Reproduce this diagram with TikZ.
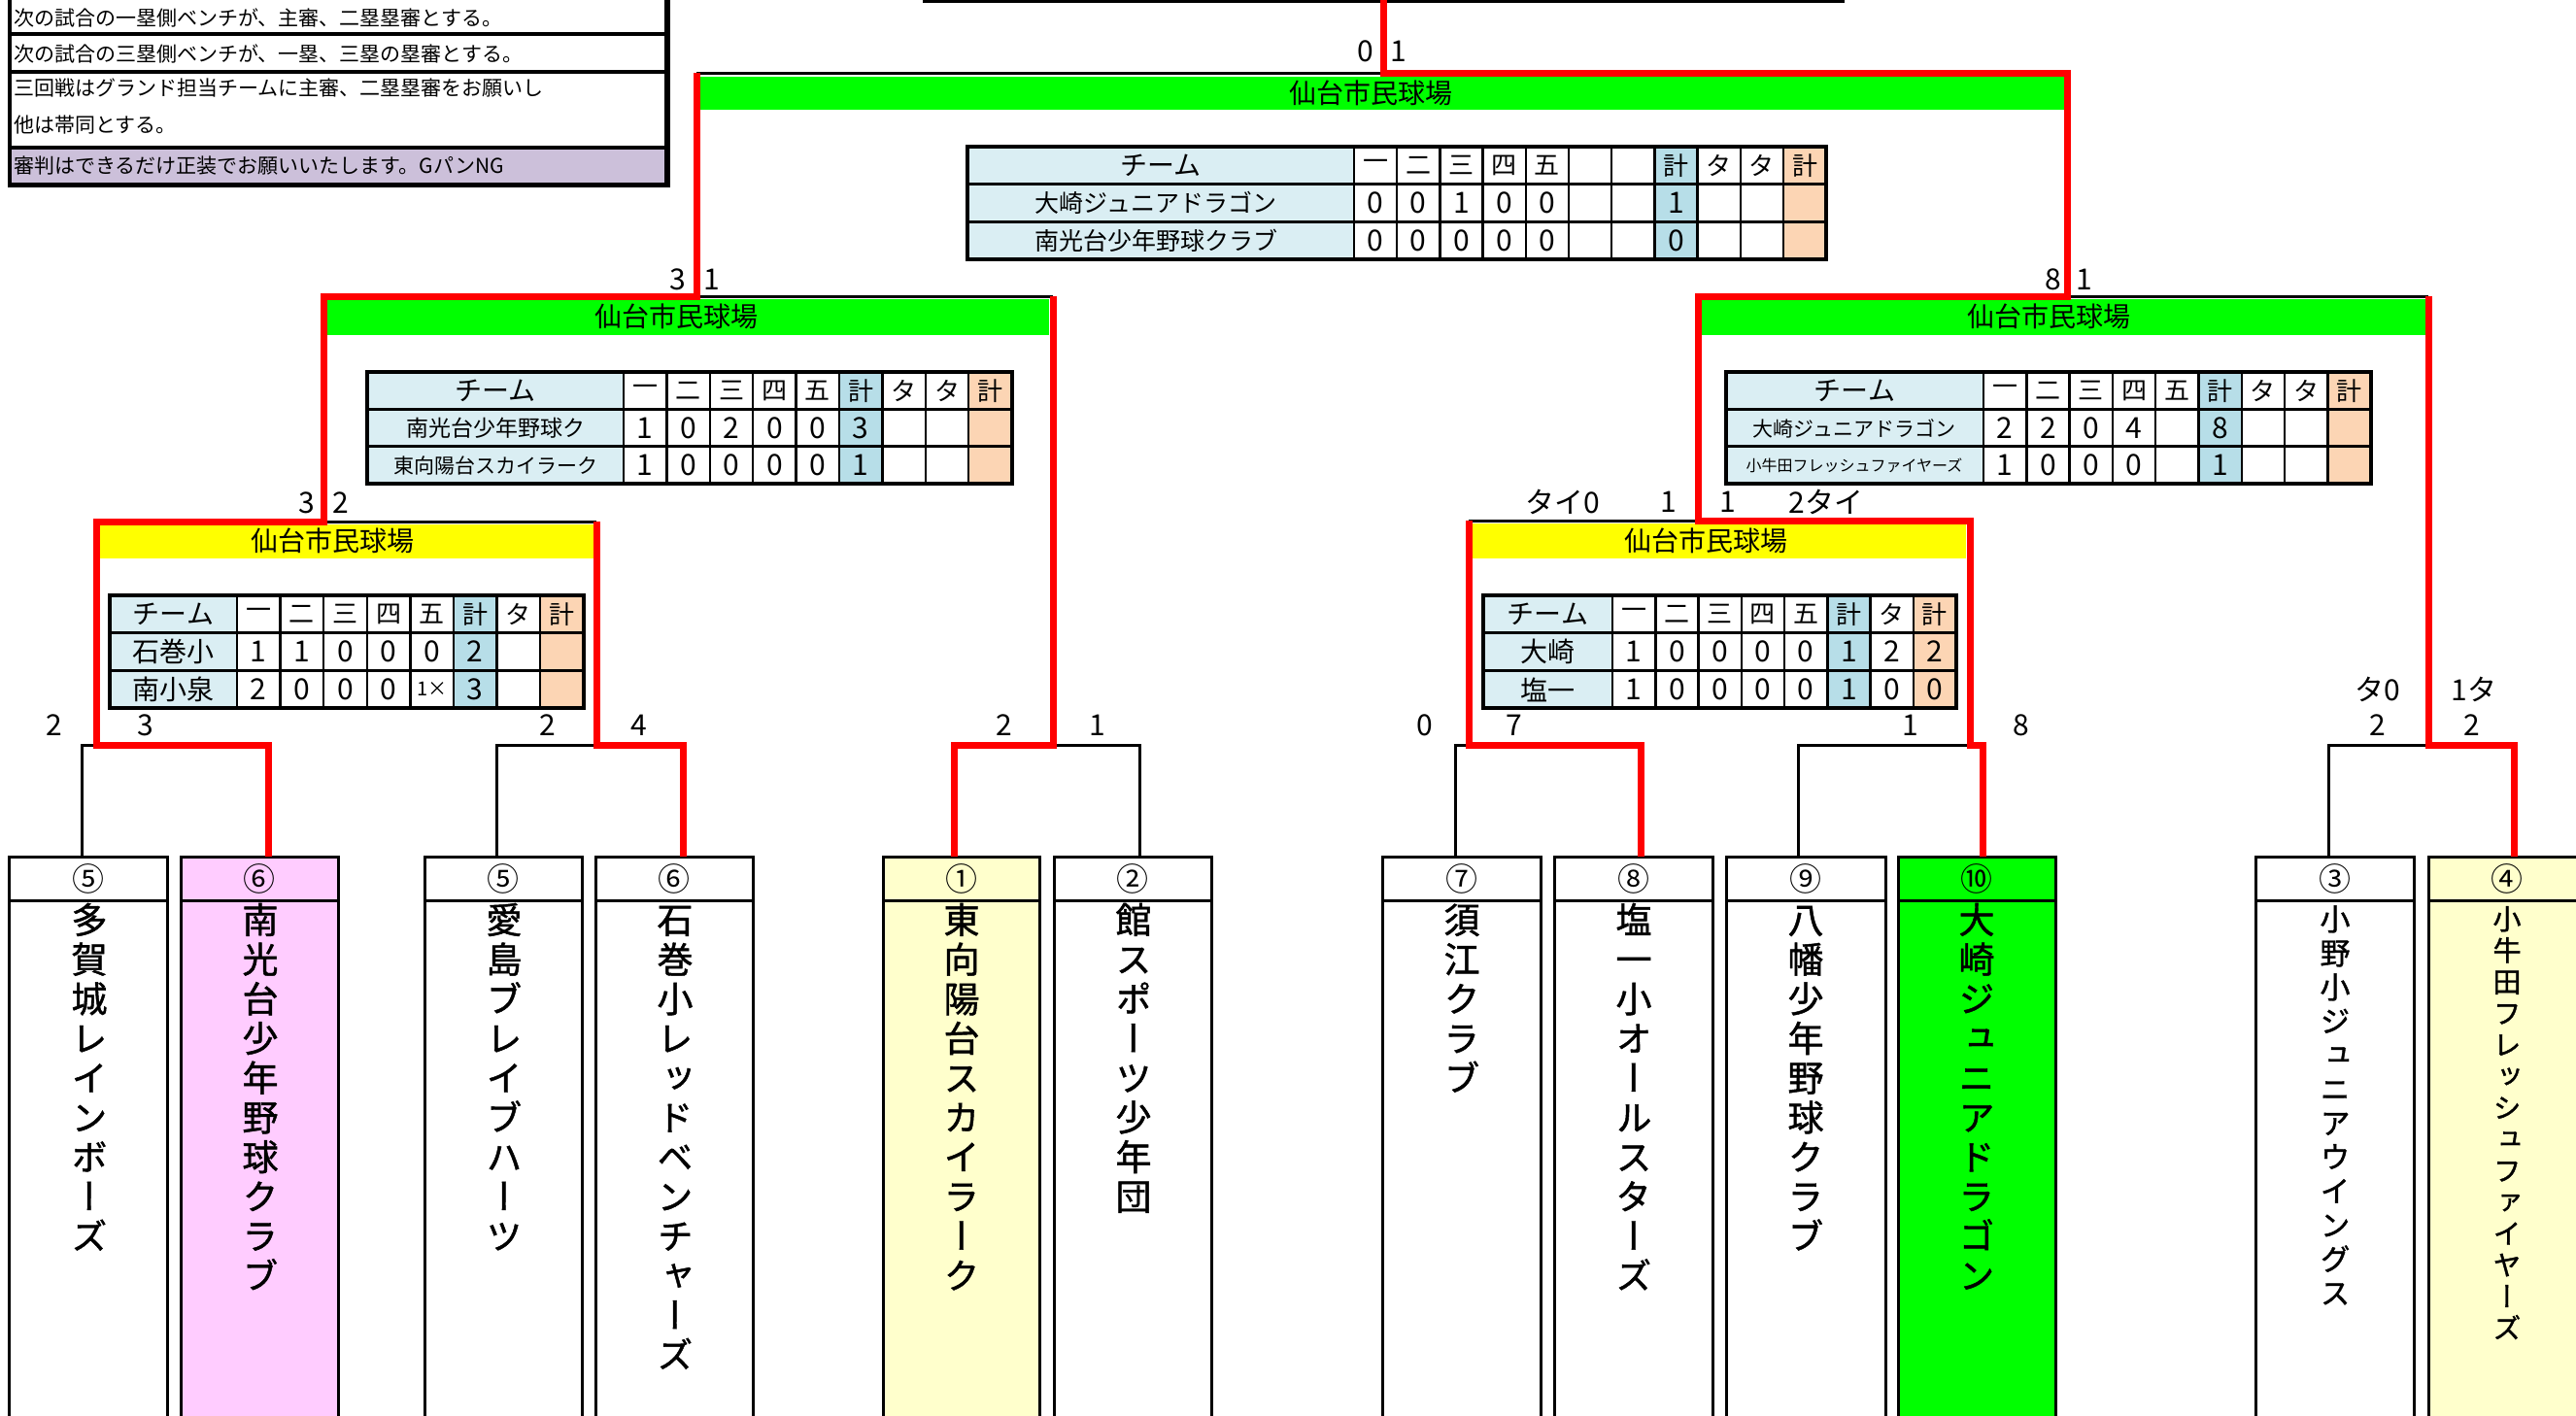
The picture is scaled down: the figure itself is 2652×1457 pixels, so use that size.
\documentclass[tikz,border=0pt]{standalone}
\usepackage{fontspec}
\setmainfont{Noto Sans CJK JP}
\newfontfamily\vfont[RawFeature=+vert, FakeBold=1.2]{Noto Sans CJK JP}
\newcommand\fsz[1]{\fontsize{#1}{#1}\selectfont}
\definecolor{cw}{HTML}{FFFFFF}
\definecolor{cb}{HTML}{B7DEE8}
\definecolor{co}{HTML}{FCD5B4}
\definecolor{tcol}{HTML}{DAEEF3}
\definecolor{pinkc}{HTML}{FFCCFF}
\definecolor{lyel}{HTML}{FFFFCC}
\definecolor{lav}{HTML}{CCC0DA}
\definecolor{gband}{HTML}{00FF00}
\definecolor{yband}{HTML}{FFFF00}
\tikzset{
 win/.style={draw=red, line width=7pt, line join=miter},
 lose/.style={draw=black, line width=3pt},
 gridl/.style={draw=black, line width=2.5pt},
 outerl/.style={draw=black, line width=4pt},
 hd/.style={font=\fsz{26}, inner sep=0pt},
 num/.style={font=\fsz{30}, inner sep=0pt},
 tname/.style={font=\fsz{#1}, inner sep=0pt},
 lbl/.style={font=\fsz{30}, inner sep=0pt},
 band/.style={font=\fsz{28}, inner sep=0pt},
 tboxl/.style={draw=black, line width=3pt},
 cnum/.style={font=\fsz{33}, inner sep=0pt},
 note/.style={font=\fsz{21}, inner sep=0pt, anchor=west},
}
% score table: #1 id, #2 x0, #3 y0, #4 team width, #5 col width, #6 row height, #7 ncols, #8 spec
\newcommand\stable[8]{%
  \fill[tcol] (#2,#3) rectangle ++(#4,{3*#6});
  \foreach \ct/\chd/\va/\vb [count=\i] in {#8} {%
    \pgfmathsetmacro\xl{#2+#4+(\i-1)*#5}%
    \fill[fill=c\ct] (\xl,#3) rectangle ++(#5,{3*#6});
    \node[hd] (#1h\i) at ({\xl+#5/2},{#3+#6/2}) {\chd};
    \node[num] (#1a\i) at ({\xl+#5/2},{#3+1.5*#6}) {\va};
    \node[num] (#1b\i) at ({\xl+#5/2},{#3+2.5*#6}) {\vb};
    \draw[gridl] (\xl,#3) -- ++(0,{3*#6});
  }
  \draw[gridl] (#2,{#3+#6}) -- ++({#4+#7*#5},0);
  \draw[gridl] (#2,{#3+2*#6}) -- ++({#4+#7*#5},0);
  \draw[outerl] (#2,#3) rectangle ++({#4+#7*#5},{3*#6});
  \node[hd, font=\fsz{28}] (#1h0) at ({#2+#4/2},{#3+#6/2}) {チーム};
}
% team box
\newcommand\teambox[5]{%
  \draw[tboxl, fill=#4] (#2,882) rectangle (#3,1475);
  \draw[tboxl] (#2,927) -- (#3,927);
  \node[cnum] (#1) at ({(#2+#3)/2},905) {#5};
}
% vertical name
\newcommand\vname[6]{%
  \foreach \vc [count=\k from 0] in {#6} {%
    \node[font=\vfont\fsz{#5}, inner sep=0pt, anchor=base] (#1c\k) at (#2,{#3+\k*#4}) {\vc};
  }%
}
\begin{document}
\begin{tikzpicture}[x=1pt,y=-1pt]
\useasboundingbox (0,0) rectangle (2652,1457);
\clip (0,0) rectangle (2652,1457);
\fill[white] (0,0) rectangle (2652,1457);

% ---- notes box
\fill[lav] (10,153) rectangle (685,189);
\draw[line width=4pt] (10,-5) -- (10,191);
\draw[line width=6pt] (687,-5) -- (687,192);
\foreach \yy/\ww in {35/4,74/4,152/4,190/5} \draw[line width=\ww pt] (8,\yy) -- (690,\yy);
\node[note] (n1) at (14,18) {次の試合の一塁側ベンチが、主審、二塁塁審とする。};
\node[note] (n2) at (14,55) {次の試合の三塁側ベンチが、一塁、三塁の塁審とする。};
\node[note] (n3) at (14,91) {三回戦はグランド担当チームに主審、二塁塁審をお願いし};
\node[note] (n4) at (14,129) {他は帯同とする。};
\node[note] (n5) at (14,171) {審判はできるだけ正装でお願いいたします。GパンNG};

% ---- bands
\fill[gband] (721,79) rectangle (2125,113);
\node[band] (bF) at (1411,96) {仙台市民球場};
\fill[gband] (337,308) rectangle (1080,345);
\node[band] (bSL) at (696,326) {仙台市民球場};
\fill[gband] (1752,308) rectangle (2497,345);
\node[band] (bSR) at (2109,326) {仙台市民球場};
\fill[yband] (103,540) rectangle (611,575);
\node[band] (bQL) at (342,557) {仙台市民球場};
\fill[yband] (1516,539) rectangle (2024,575);
\node[band] (bQR) at (1756,557) {仙台市民球場};

% ---- score tables
\stable{F}{996}{151}{398}{44.2}{38.67}{11}{w/一/0/0, w/二/0/0, w/三/1/0, w/四/0/0, w/五/0/0, w/{}/{}/{}, w/{}/{}/{}, b/計/1/0, w/タ/{}/{}, w/タ/{}/{}, o/計/{}/{}}
\node[tname=25] (Fn1) at (1190,209) {大崎ジュニアドラゴン};
\node[tname=25] (Fn2) at (1190,248) {南光台少年野球クラブ};

\stable{SL}{378}{383}{264}{44.4}{38.33}{9}{w/一/1/1, w/二/0/0, w/三/2/0, w/四/0/0, w/五/0/0, b/計/3/1, w/タ/{}/{}, w/タ/{}/{}, o/計/{}/{}}
\node[tname=23] (SLn1) at (510,441) {南光台少年野球ク};
\node[tname=21] (SLn2) at (510,479) {東向陽台スカイラーク};

\stable{SR}{1777}{383}{265}{44.3}{38.33}{9}{w/一/2/1, w/二/2/0, w/三/0/0, w/四/4/0, w/五/{}/{}, b/計/8/1, w/タ/{}/{}, w/タ/{}/{}, o/計/{}/{}}
\node[tname=21] (SRn1) at (1909,441) {大崎ジュニアドラゴン};
\node[tname=16] (SRn2) at (1909,479) {小牛田フレッシュファイヤーズ};

\stable{QL}{113}{613}{131}{44.6}{38.67}{8}{w/一/1/2, w/二/1/0, w/三/0/0, w/四/0/0, w/五/0/{\fsz{20}1×}, b/計/2/3, w/タ/{}/{}, o/計/{}/{}}
\node[tname=28] (QLn1) at (178,671) {石巻小};
\node[tname=28] (QLn2) at (178,710) {南小泉};

\stable{QR}{1527}{613}{133}{44.25}{38.67}{8}{w/一/1/1, w/二/0/0, w/三/0/0, w/四/0/0, w/五/0/0, b/計/1/1, w/タ/2/0, o/計/2/0}
\node[tname=28] (QRn1) at (1593,671) {大崎};
\node[tname=28] (QRn2) at (1593,710) {塩一};

% ---- team boxes
\teambox{T1}{9}{172}{white}{⑤}
\teambox{T2}{186}{348}{pinkc}{⑥}
\teambox{T3}{437}{599}{white}{⑤}
\teambox{T4}{613}{775}{white}{⑥}
\teambox{T5}{909}{1070}{lyel}{①}
\teambox{T6}{1085}{1247}{white}{②}
\teambox{T7}{1423}{1586}{white}{⑦}
\teambox{T8}{1600}{1763}{white}{⑧}
\teambox{T9}{1777}{1941}{white}{⑨}
\teambox{T10}{1954}{2116}{gband}{⑩}
\teambox{T11}{2322}{2485}{white}{③}
\teambox{T12}{2500}{2662}{lyel}{④}

\vname{V1}{92}{961}{40.7}{37}{多,賀,城,レ,イ,ン,ボ,ー,ズ}
\vname{V2}{268}{961}{40.7}{37}{南,光,台,少,年,野,球,ク,ラ,ブ}
\vname{V3}{519}{961}{40.7}{37}{愛,島,ブ,レ,イ,ブ,ハ,ー,ツ}
\vname{V4}{695}{961}{40.7}{37}{石,巻,小,レ,ッ,ド,ベ,ン,チ,ャ,ー,ズ}
\vname{V5}{990}{961}{40.7}{37}{東,向,陽,台,ス,カ,イ,ラ,ー,ク}
\vname{V6}{1167}{961}{40.7}{37}{館,ス,ポ,ー,ツ,少,年,団}
\vname{V7}{1505}{961}{40.7}{37}{須,江,ク,ラ,ブ}
\vname{V8}{1682}{961}{40.7}{37}{塩,一,小,オ,ー,ル,ス,タ,ー,ズ}
\vname{V9}{1859}{961}{40.7}{37}{八,幡,少,年,野,球,ク,ラ,ブ}
\vname{V10}{2035}{961}{40.7}{37}{大,崎,ジ,ュ,ニ,ア,ド,ラ,ゴ,ン}
\vname{V11}{2404}{958}{35}{31}{小,野,小,ジ,ュ,ニ,ア,ウ,イ,ン,グ,ス}
\vname{V12}{2581}{957}{32.4}{29}{小,牛,田,フ,レ,ッ,シ,ュ,フ,ァ,イ,ヤ,ー,ズ}

% ---- coordinates
\coordinate (cbL) at (950,1); \coordinate (cbR) at (1899,1);
\coordinate (top) at (1424,0);
\coordinate (fL) at (717,75); \coordinate (fC) at (1424,75); \coordinate (fR) at (2128,75);
\coordinate (sLL) at (333,305); \coordinate (sLc) at (717,305); \coordinate (sLR) at (1084,305);
\coordinate (sRL) at (1748,305); \coordinate (sRc) at (2128,305); \coordinate (sRR) at (2500,305);
\coordinate (qLL) at (99,537); \coordinate (qLc) at (333,537); \coordinate (qLR) at (614,537);
\coordinate (qRL) at (1512,536); \coordinate (qRc) at (1748,536); \coordinate (qRR) at (2028,536);
\coordinate (pAj) at (99,767); \coordinate (a1) at (84,767); \coordinate (a2) at (276,767);
\coordinate (pBj) at (614,767); \coordinate (bb1) at (511,767); \coordinate (bb2) at (703,767);
\coordinate (pCj) at (1084,767); \coordinate (c1) at (982,767); \coordinate (c2) at (1173,767);
\coordinate (pDj) at (1512,767); \coordinate (d1) at (1498,767); \coordinate (d2) at (1689,767);
\coordinate (pEj) at (2028,767); \coordinate (e1) at (1851,767); \coordinate (e2) at (2041,767);
\coordinate (pFj) at (2500,767); \coordinate (f1) at (2397,767); \coordinate (f2) at (2588,767);
\coordinate (b1t) at (84,882); \coordinate (b2t) at (276,882);
\coordinate (b3t) at (511,882); \coordinate (b4t) at (703,882);
\coordinate (b5t) at (982,882); \coordinate (b6t) at (1173,882);
\coordinate (b7t) at (1498,882); \coordinate (b8t) at (1689,882);
\coordinate (b9t) at (1851,882); \coordinate (b10t) at (2041,882);
\coordinate (b11t) at (2397,882); \coordinate (b12t) at (2588,882);

% ---- black (losing) lines
\draw[lose] (cbL) -- (cbR);
\draw[lose] (fL) -- (fC);
\draw[lose] (sLc) -- (sLR);
\draw[lose] (sRc) -- (sRR);
\draw[lose] (qLc) -- (qLR);
\draw[lose] (qRL) -- (qRc);
\draw[lose] (pAj) -- (a1) -- (b1t);
\draw[lose] (pBj) -- (bb1) -- (b3t);
\draw[lose] (pCj) -- (c2) -- (b6t);
\draw[lose] (pDj) -- (d1) -- (b7t);
\draw[lose] (pEj) -- (e1) -- (b9t);
\draw[lose] (pFj) -- (f1) -- (b11t);

% ---- red (winning) lines
\draw[win] (b10t) -- (e2) -- (pEj) -- (qRR) -- (qRc) -- (sRL) -- (sRc) -- (fR) -- (fC) -- (top);
\draw[win] (b2t) -- (a2) -- (pAj) -- (qLL) -- (qLc) -- (sLL) -- (sLc) -- (fL);
\draw[win] (b4t) -- (bb2) -- (pBj) -- (qLR);
\draw[win] (b5t) -- (c1) -- (pCj) -- (sLR);
\draw[win] (b8t) -- (d2) -- (pDj) -- (qRL);
\draw[win] (b12t) -- (f2) -- (pFj) -- (sRR);

% ---- score labels
\node[lbl] (lF1) at (1406,53) {0}; \node[lbl] (lF2) at (1440,53) {1};
\node[lbl] (lSL1) at (698,288) {3}; \node[lbl] (lSL2) at (733,288) {1};
\node[lbl] (lSR1) at (2114,288) {8}; \node[lbl] (lSR2) at (2146,288) {1};
\node[lbl] (lQL1) at (316,518) {3}; \node[lbl] (lQL2) at (351,518) {2};
\node[lbl] (lQR1) at (1609,517) {タイ0}; \node[lbl] (lQR2) at (1718,517) {1};
\node[lbl] (lQR3) at (1779,517) {1}; \node[lbl] (lQR4) at (1880,517) {2タイ};
\node[lbl] (lA1) at (56,747) {2}; \node[lbl] (lA2) at (150,747) {3};
\node[lbl] (lB1) at (564,747) {2}; \node[lbl] (lB2) at (658,747) {4};
\node[lbl] (lC1) at (1034,747) {2}; \node[lbl] (lC2) at (1130,747) {1};
\node[lbl] (lD1) at (1467,747) {0}; \node[lbl] (lD2) at (1559,747) {7};
\node[lbl] (lE1) at (1967,747) {1}; \node[lbl] (lE2) at (2081,747) {8};
\node[lbl] (lF3) at (2448,710) {タ0}; \node[lbl] (lF4) at (2547,710) {1タ};
\node[lbl] (lF5) at (2448,747) {2}; \node[lbl] (lF6) at (2545,747) {2};
\end{tikzpicture}
\end{document}
